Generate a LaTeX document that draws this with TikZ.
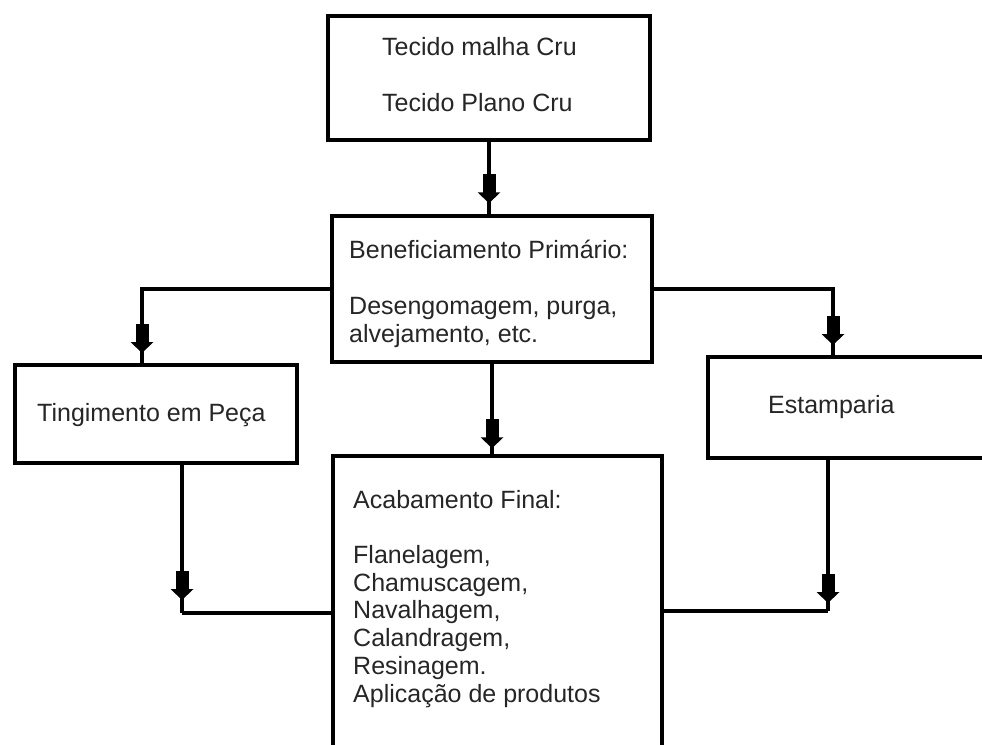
\documentclass[tikz,border=0pt]{standalone}
\usepackage{fontspec}
\setmainfont{Liberation Sans}
\usetikzlibrary{decorations.markings}
\tikzset{
 box/.style={draw, line width=3.5pt, rectangle, inner sep=0pt},
 conn/.style={line width=3.2pt},
 txt/.style={anchor=base west, inner sep=0pt, align=left, text=black!85, font=\fontsize{25}{27.7}\selectfont},
 blk/.style={postaction={decorate}, decoration={markings, mark=at position #1 with {\fill (-29pt,-6.5pt) rectangle (-9pt,6.5pt); \fill (-11pt,-11.5pt) -- (0pt,0pt) -- (-11pt,11.5pt) -- cycle;}}}
}
\begin{document}
\begin{tikzpicture}[x=1pt,y=-1pt]
\useasboundingbox (0,0) rectangle (982,744);
\fill[white] (0,0) rectangle (982,744);
\clip (0,0) rectangle (982,744);
% boxes
\node[box, minimum width=322, minimum height=124] (top) at (489,78) {};
\node[box, minimum width=320, minimum height=146] (ben) at (492,289) {};
\node[box, minimum width=282, minimum height=98] (ting) at (156,414) {};
\node[box, minimum width=302, minimum height=101] (estamp) at (859,407.5) {};
\node[box, minimum width=329, minimum height=324] (acab) at (497.5,618) {};
% texts (anchor = baseline of the last line)
\node[txt] (ttop) at (382,111) {Tecido malha Cru\\[27.7pt]Tecido Plano Cru};
\node[txt] (tben) at (349,342) {Beneficiamento Primário:\\[28pt]Desengomagem, purga,\\alvejamento, etc.};
\node[txt] (tting) at (37,421) {Tingimento em Peça};
\node[txt] (testamp) at (768,413) {Estamparia};
\node[txt] (tacab) at (353,702) {Acabamento Final:\\[27.7pt]Flanelagem,\\Chamuscagem,\\Navalhagem,\\Calandragem,\\Resinagem.\\Aplicação de produtos};
% helper coordinates
\coordinate (tl) at (142,365);
\coordinate (er) at (833,357);
\coordinate (tb) at (182,463);
\coordinate (tc) at (182,613);
\coordinate (eb) at (828,458);
\coordinate (ec) at (828,611);
% connectors
\draw[conn, blk=-11pt] (top.south) -- (top.south |- ben.north);
\draw[conn, blk=-12pt] (ben.west) -| (tl);
\draw[conn, blk=-12pt] (ben.east) -| (er);
\draw[conn, blk=-6pt] (ben.south) -- (ben.south |- acab.north);
\draw[conn, blk=-13pt] (tb) -- (tc);
\draw[conn] (tc) -- (tc -| acab.west);
\draw[conn, blk=-8pt] (eb) -- (ec);
\draw[conn] (ec) -- (ec -| acab.east);
\end{tikzpicture}
\end{document}
